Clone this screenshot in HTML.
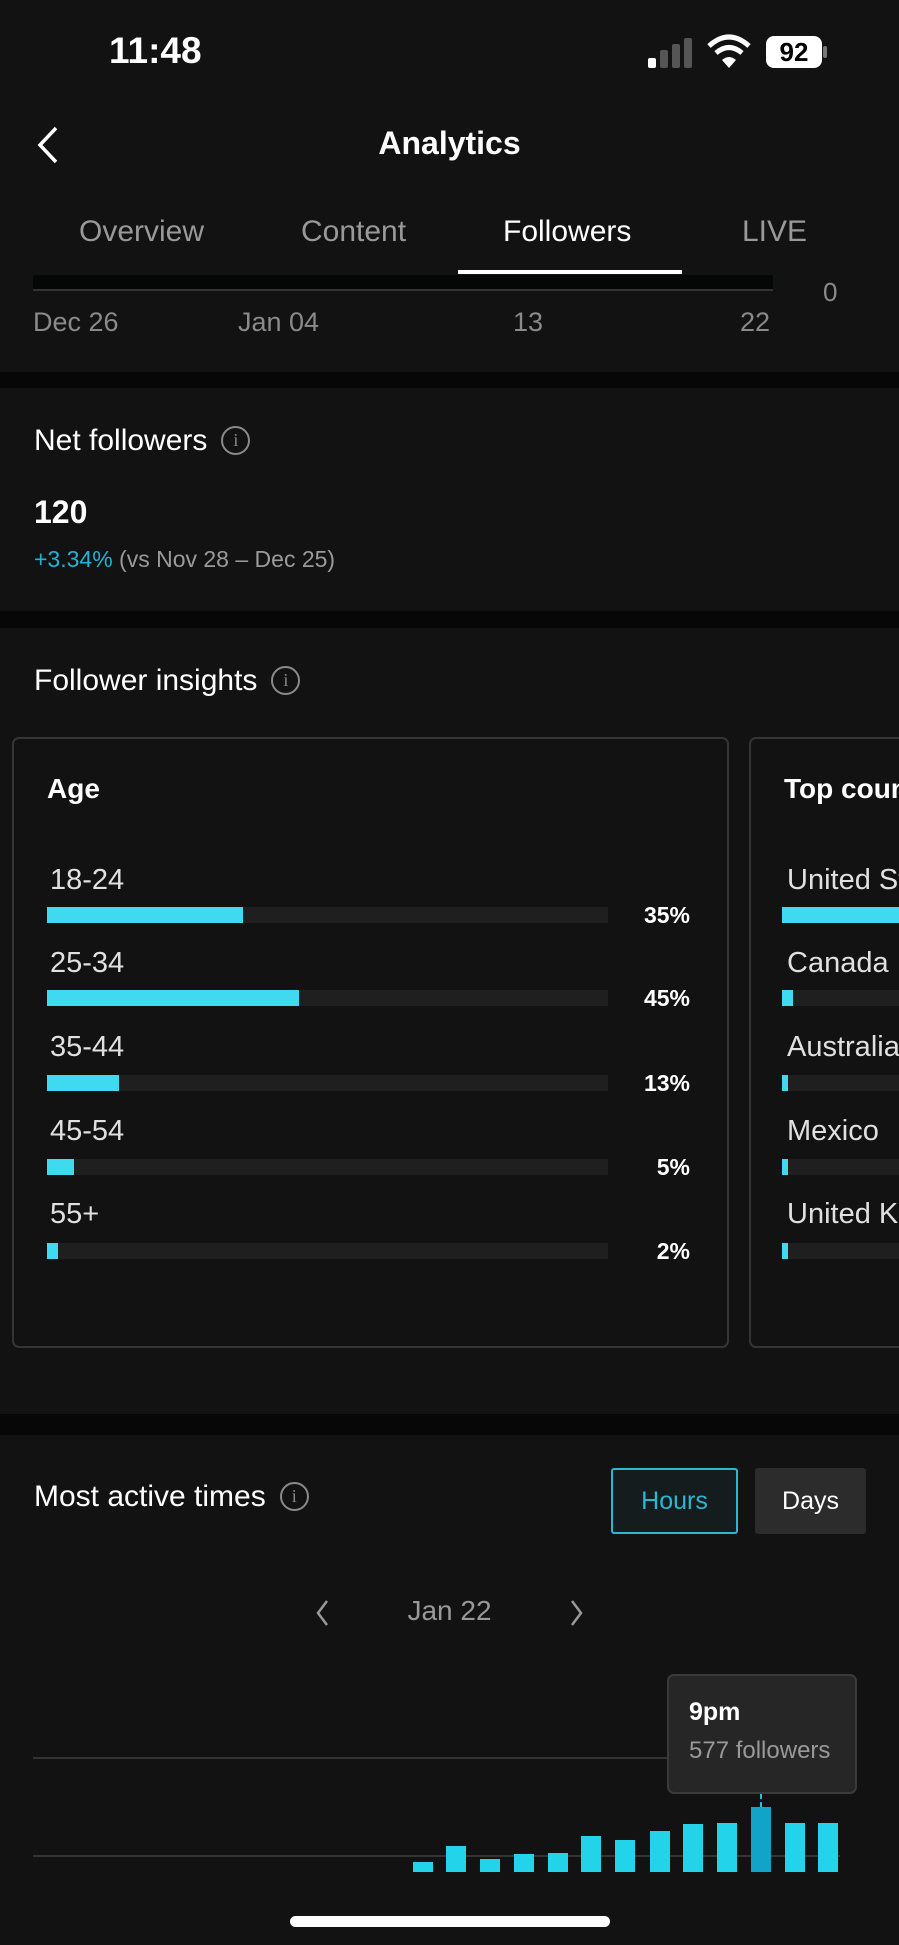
<!DOCTYPE html>
<html><head><meta charset="utf-8"><style>
*{margin:0;padding:0;box-sizing:border-box}
html,body{width:899px;height:1945px;overflow:hidden}
body{background:#121212;font-family:"Liberation Sans",sans-serif;color:#fff;position:relative}
.a{position:absolute;white-space:nowrap}
.g{color:#8a8a8a}
.div{position:absolute;left:0;width:899px;background:#070707}
.info{display:inline-block;vertical-align:middle;margin-left:14px;margin-top:-4px;width:29px;height:29px;border:2px solid #8a8a8a;border-radius:50%;color:#8a8a8a;font-size:18px;text-align:center;line-height:25px;font-family:"Liberation Serif",serif}
.track{position:absolute;left:47px;width:561px;height:16px;background:#1f1f1f}
.fill{position:absolute;left:0;top:0;height:16px;background:#3fd9f0}
.lbl{position:absolute;left:50px;font-size:29px;color:#e0e0e0;white-space:nowrap}
.pct{position:absolute;right:209px;font-size:23px;font-weight:bold;text-align:right}
.bar{position:absolute;width:20px;background:#22d3ea;bottom:73px}
.clip{position:absolute;left:0;top:0;width:899px;height:1945px;overflow:hidden}
</style></head><body><div class="clip">
<div class="a" style="left:109px;top:30px;font-size:37px;font-weight:bold">11:48</div>
<div class="a" style="left:648px;top:58px;width:8px;height:10px;background:#fff;border-radius:2px"></div>
<div class="a" style="left:660px;top:50px;width:8px;height:18px;background:#555;border-radius:2px"></div>
<div class="a" style="left:672px;top:44px;width:8px;height:24px;background:#555;border-radius:2px"></div>
<div class="a" style="left:684px;top:38px;width:8px;height:30px;background:#555;border-radius:2px"></div>
<svg class="a" style="left:707px;top:34px" width="44" height="36" viewBox="0 0 44 36"><path d="M2 12 Q22 -6 42 12" stroke="#fff" stroke-width="5" fill="none"/><path d="M9 19 Q22 8 35 19" stroke="#fff" stroke-width="5" fill="none"/><path d="M15 26 L22 34 L29 26 Q22 20 15 26Z" fill="#fff"/></svg>
<div class="a" style="left:766px;top:36px;width:56px;height:32px;background:#fff;border-radius:8px;color:#000;font-size:26px;font-weight:bold;text-align:center;line-height:32px">92</div>
<div class="a" style="left:823px;top:46px;width:4px;height:12px;background:#777;border-radius:2px"></div>
<svg class="a" style="left:34px;top:125px" width="28" height="40"><path d="M22 3 L6 20 L22 37" stroke="#fff" stroke-width="3.5" fill="none"/></svg>
<div class="a" style="left:0;width:899px;text-align:center;top:125px;font-size:32px;font-weight:bold">Analytics</div>
<div class="a" style="left:79px;top:215px;font-size:30px;color:#999">Overview</div>
<div class="a" style="left:301px;top:215px;font-size:30px;color:#999">Content</div>
<div class="a" style="left:503px;top:215px;font-size:30px">Followers</div>
<div class="a" style="left:742px;top:215px;font-size:30px;color:#999">LIVE</div>
<div class="a" style="left:458px;top:270px;width:224px;height:4px;background:#fff"></div>
<div class="a" style="left:33px;top:275px;width:740px;height:16px;background:#050707;border-bottom:2px solid #333"></div>
<div class="a g" style="left:823px;top:277px;font-size:26px">0</div>
<div class="a g" style="left:33px;top:307px;font-size:27px">Dec 26</div>
<div class="a g" style="left:238px;top:307px;font-size:27px">Jan 04</div>
<div class="a g" style="left:513px;top:307px;font-size:27px">13</div>
<div class="a g" style="left:740px;top:307px;font-size:27px">22</div>
<div class="div" style="top:372px;height:16px"></div>
<div class="a" style="left:34px;top:424px;font-size:30px">Net followers<span class="info">i</span></div>
<div class="a" style="left:34px;top:494px;font-size:32px;font-weight:bold">120</div>
<div class="a" style="left:34px;top:546px;font-size:23px;color:#9a9a9a"><span style="color:#1fb4d6">+3.34%</span> (vs Nov 28 – Dec 25)</div>
<div class="div" style="top:611px;height:17px"></div>
<div class="a" style="left:34px;top:664px;font-size:30px">Follower insights<span class="info">i</span></div>
<div class="a" style="left:12px;top:737px;width:717px;height:611px;border:2px solid #353535;border-radius:7px"></div>
<div class="a" style="left:749px;top:737px;width:200px;height:611px;border:2px solid #353535;border-radius:7px"></div>
<div class="a" style="left:47px;top:773px;font-size:28px;font-weight:bold">Age</div>
<div class="a" style="left:784px;top:773px;font-size:28px;font-weight:bold">Top countries</div>
<div class="lbl" style="top:864px">18-24</div><div class="track" style="top:907px"><div class="fill" style="width:196px"></div></div><div class="pct" style="top:902px">35%</div>
<div class="lbl" style="top:947px">25-34</div><div class="track" style="top:990px"><div class="fill" style="width:252px"></div></div><div class="pct" style="top:985px">45%</div>
<div class="lbl" style="top:1031px">35-44</div><div class="track" style="top:1075px"><div class="fill" style="width:72px"></div></div><div class="pct" style="top:1070px">13%</div>
<div class="lbl" style="top:1115px">45-54</div><div class="track" style="top:1159px"><div class="fill" style="width:27px"></div></div><div class="pct" style="top:1154px">5%</div>
<div class="lbl" style="top:1198px">55+</div><div class="track" style="top:1243px"><div class="fill" style="width:11px"></div></div><div class="pct" style="top:1238px">2%</div>
<div class="lbl" style="left:787px;top:864px">United States</div><div class="a" style="left:782px;top:907px;width:200px;height:16px;background:#3fd9f0"></div>
<div class="lbl" style="left:787px;top:947px">Canada</div><div class="a" style="left:782px;top:990px;width:200px;height:16px;background:#1f1f1f"></div><div class="a" style="left:782px;top:990px;width:11px;height:16px;background:#3fd9f0"></div>
<div class="lbl" style="left:787px;top:1031px">Australia</div><div class="a" style="left:782px;top:1075px;width:200px;height:16px;background:#1f1f1f"></div><div class="a" style="left:782px;top:1075px;width:6px;height:16px;background:#3fd9f0"></div>
<div class="lbl" style="left:787px;top:1115px">Mexico</div><div class="a" style="left:782px;top:1159px;width:200px;height:16px;background:#1f1f1f"></div><div class="a" style="left:782px;top:1159px;width:6px;height:16px;background:#3fd9f0"></div>
<div class="lbl" style="left:787px;top:1198px">United Kingdom</div><div class="a" style="left:782px;top:1243px;width:200px;height:16px;background:#1f1f1f"></div><div class="a" style="left:782px;top:1243px;width:6px;height:16px;background:#3fd9f0"></div>
<div class="div" style="top:1414px;height:21px"></div>
<div class="a" style="left:34px;top:1480px;font-size:30px">Most active times<span class="info">i</span></div>
<div class="a" style="left:611px;top:1468px;width:127px;height:66px;border:2px solid #2bb6d4;border-radius:3px;color:#2bb6d4;font-size:25px;text-align:center;line-height:62px;background:#151c1e">Hours</div>
<div class="a" style="left:755px;top:1468px;width:111px;height:66px;background:#2c2c2c;border-radius:3px;font-size:25px;text-align:center;line-height:66px">Days</div>
<svg class="a" style="left:313px;top:1598px" width="20" height="30"><path d="M14 3 L5 15 L14 27" stroke="#999" stroke-width="2.5" fill="none"/></svg>
<svg class="a" style="left:566px;top:1598px" width="20" height="30"><path d="M6 3 L15 15 L6 27" stroke="#999" stroke-width="2.5" fill="none"/></svg>
<div class="a" style="left:0;width:899px;text-align:center;top:1595px;font-size:28px;color:#999">Jan 22</div>
<div class="a" style="left:33px;top:1757px;width:807px;height:2px;background:#333"></div>
<div class="a" style="left:33px;top:1855px;width:807px;height:2px;background:#333"></div>
<div class="bar" style="left:413px;height:10px"></div>
<div class="bar" style="left:446px;height:26px"></div>
<div class="bar" style="left:480px;height:13px"></div>
<div class="bar" style="left:514px;height:18px"></div>
<div class="bar" style="left:548px;height:19px"></div>
<div class="bar" style="left:581px;height:36px"></div>
<div class="bar" style="left:615px;height:32px"></div>
<div class="bar" style="left:650px;height:41px"></div>
<div class="bar" style="left:683px;height:48px"></div>
<div class="bar" style="left:717px;height:49px"></div>
<div class="bar" style="left:751px;height:65px;background:#12a3c8"></div>
<div class="bar" style="left:785px;height:49px"></div>
<div class="bar" style="left:818px;height:49px"></div>
<div class="a" style="left:760px;top:1794px;height:13px;border-left:2px dashed #22c0e0"></div>
<div class="a" style="left:667px;top:1674px;width:190px;height:120px;background:#262626;border:2px solid #3a3a3a;border-radius:7px"></div>
<div class="a" style="left:689px;top:1698px;font-size:25px;font-weight:bold">9pm</div>
<div class="a" style="left:689px;top:1737px;font-size:24px;color:#999">577 followers</div>
<div class="a" style="left:290px;top:1916px;width:320px;height:11px;background:#fff;border-radius:6px"></div>
</div></body></html>
